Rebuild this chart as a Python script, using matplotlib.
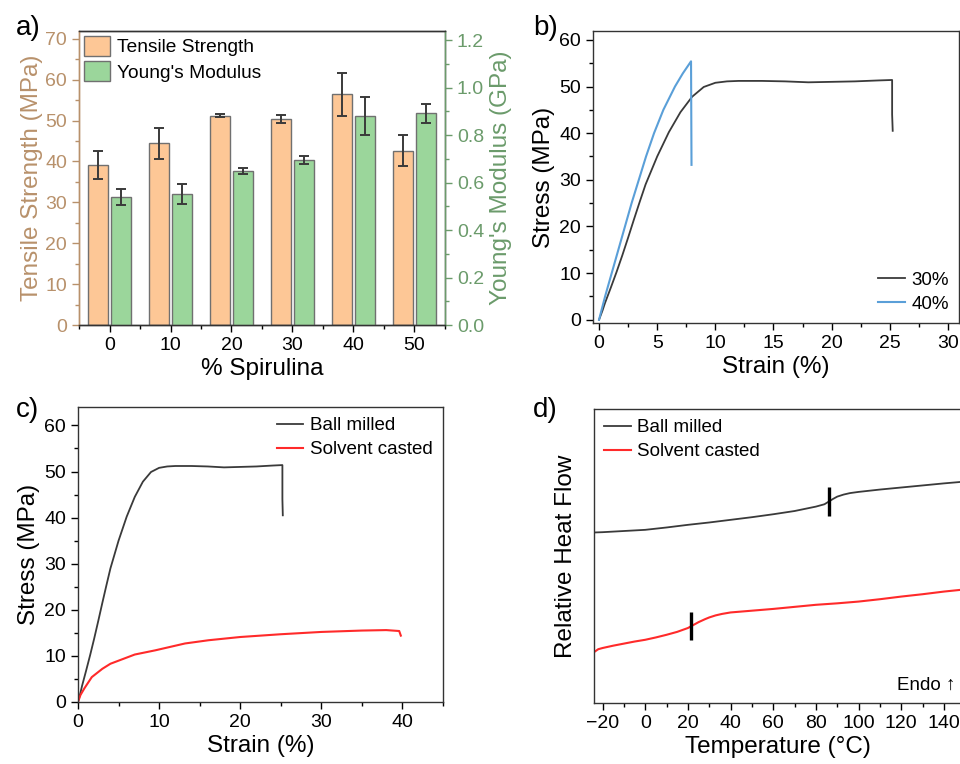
import numpy as np
import matplotlib
matplotlib.use("Agg")
import matplotlib.pyplot as plt
from matplotlib.ticker import MultipleLocator

plt.rcParams['font.family'] = ['Liberation Sans', 'DejaVu Sans']

# === Données ===
# a) propriétés mécaniques selon le % de spiruline
spirulina = ['0', '10', '20', '30', '40', '50']
tensile = [39.1, 44.4, 51.2, 50.4, 56.4, 42.6]          # MPa
tensile_err = [3.5, 3.7, 0.4, 1.0, 5.3, 3.8]
modulus = [0.539, 0.554, 0.650, 0.695, 0.880, 0.892]    # GPa
modulus_err = [0.034, 0.042, 0.012, 0.016, 0.080, 0.041]

# b) et c) courbes contrainte / déformation
ball_strain = [0, 0.3, 0.5, 1, 1.5, 2, 2.5, 3, 3.5, 4, 5, 6, 7, 8, 9, 10, 11, 12,
               14, 16, 18, 20, 22, 24, 25.2, 25.2, 25.25]
ball_stress = [0, 2.0, 3.5, 6.8, 10.2, 13.8, 17.6, 21.5, 25.3, 29.0, 35.0, 40.2,
               44.5, 47.8, 49.9, 50.8, 51.1, 51.2, 51.2, 51.1, 50.9, 51.0, 51.1,
               51.3, 51.4, 44.0, 40.5]

s40_strain = [0, 0.52, 1.66, 2.8, 4.04, 4.73, 5.53, 6.53, 7.2, 7.91, 7.95]
s40_stress = [0, 5, 15, 25, 35, 40, 45, 50, 52.8, 55.4, 33.2]

solv_strain = [0, 0.3, 0.8, 1.7, 3, 4, 5.2, 7, 9.5, 13.2, 16.1, 20, 25, 30, 35, 38,
               39.6, 39.8]
solv_stress = [0, 1.5, 3.0, 5.4, 7.2, 8.3, 9.1, 10.3, 11.2, 12.7, 13.4, 14.1, 14.7,
               15.2, 15.5, 15.6, 15.4, 14.4]

# d) DSC (flux de chaleur relatif, unités arbitraires)
dsc_ball_T = [-24, -20, -10, 0, 10, 20, 30, 40, 50, 60, 70, 80, 84, 86, 88, 90, 93,
              96, 100, 110, 120, 130, 140, 148]
dsc_ball_hf = [58.0, 58.1, 58.5, 58.9, 59.7, 60.6, 61.4, 62.3, 63.2, 64.2, 65.3,
               66.8, 67.6, 68.5, 69.4, 70.2, 70.9, 71.4, 71.8, 72.6, 73.3, 74.0,
               74.7, 75.2]
dsc_solv_T = [-24, -22, -20, -15, -10, -5, 0, 5, 10, 15, 20, 22, 25, 28, 30, 33, 36,
              40, 50, 60, 70, 80, 90, 100, 110, 120, 130, 140, 148]
dsc_solv_hf = [17.3, 18.3, 18.7, 19.5, 20.2, 20.9, 21.5, 22.3, 23.2, 24.2, 25.5,
               26.3, 27.5, 28.5, 29.1, 29.8, 30.3, 30.8, 31.4, 32.0, 32.7, 33.4,
               33.9, 34.5, 35.3, 36.2, 37.0, 37.9, 38.5]
tg_ball = 86
tg_solv = 21.5

# === Couleurs ===
c_orange = '#FDC796'
c_green = '#9BD69B'
c_tan = '#B8916B'
c_dgreen = '#6B9B6B'
c_black = '#3A3A3A'
c_red = '#FF2A2A'
c_blue = '#5A9FD8'

W, H = 960, 764
fig = plt.figure(figsize=(W / 100, H / 100), dpi=100)


def rect(l, t, r, b):
    return [l / W, 1 - b / H, (r - l) / W, (b - t) / H]


def style(ax):
    ax.tick_params(which='both', direction='out', labelsize=14, width=1)
    ax.tick_params(which='major', length=5)
    ax.tick_params(which='minor', length=3)
    for s in ax.spines.values():
        s.set_linewidth(1)
        s.set_color('#333333')


leg_kw = dict(frameon=False, fontsize=13.5, handlelength=1.4, labelspacing=0.35,
              handletextpad=0.35, borderaxespad=0.15)

# === a) ===
ax1 = fig.add_axes(rect(79, 31, 445, 325))
style(ax1)
x = np.arange(len(spirulina))
err_kw = dict(ecolor='#3a3a3a', elinewidth=1.4, capthick=1.4)
b1 = ax1.bar(x - 0.19, tensile, 0.33, yerr=tensile_err, capsize=3.5,
             color=c_orange, edgecolor='#707070', linewidth=1, error_kw=err_kw)
ax1.set_xlim(-0.5, 5.5)
ax1.set_ylim(0, 71.9)
ax1.set_xticks(x)
ax1.set_xticklabels(spirulina)
ax1.xaxis.set_minor_locator(MultipleLocator(0.5))
ax1.yaxis.set_major_locator(MultipleLocator(10))
ax1.yaxis.set_minor_locator(MultipleLocator(5))
ax1.tick_params(axis='y', which='both', colors=c_tan)
ax1.spines['left'].set_color(c_tan)
ax1.set_ylabel('Tensile Strength (MPa)', fontsize=17.5, color=c_tan, labelpad=2)
ax1.set_xlabel('% Spirulina', fontsize=17.5, labelpad=3)

ax2 = ax1.twinx()
style(ax2)
b2 = ax2.bar(x + 0.19, modulus, 0.33, yerr=modulus_err, capsize=3.5,
             color=c_green, edgecolor='#707070', linewidth=1, error_kw=err_kw)
ax2.set_ylim(0, 1.239)
ax2.yaxis.set_major_locator(MultipleLocator(0.2))
ax2.yaxis.set_minor_locator(MultipleLocator(0.1))
ax2.yaxis.set_major_formatter(matplotlib.ticker.FormatStrFormatter('%.1f'))
ax2.tick_params(axis='y', which='both', colors=c_dgreen)
ax2.spines['right'].set_color(c_dgreen)
ax2.spines['left'].set_color(c_tan)
ax2.set_ylabel("Young's Modulus (GPa)", fontsize=17.5, color=c_dgreen, labelpad=4)
ax2.legend([b1, b2], ['Tensile Strength', "Young's Modulus"], loc='upper left',
           frameon=False, fontsize=13.8, handlelength=1.35, handleheight=1.25,
           borderaxespad=0.05, borderpad=0.2, labelspacing=0.25, handletextpad=0.4)

# === b) ===
axb = fig.add_axes(rect(593, 31, 959, 323))
style(axb)
axb.plot(ball_strain, ball_stress, color=c_black, lw=1.3, label='30%')
axb.plot(s40_strain, s40_stress, color=c_blue, lw=1.5, label='40%')
axb.set_xlim(-0.52, 30.95)
axb.set_ylim(-0.7, 61.9)
axb.xaxis.set_major_locator(MultipleLocator(5))
axb.xaxis.set_minor_locator(MultipleLocator(2.5))
axb.yaxis.set_major_locator(MultipleLocator(10))
axb.yaxis.set_minor_locator(MultipleLocator(5))
axb.set_xlabel('Strain (%)', fontsize=17.5, labelpad=3)
axb.set_ylabel('Stress (MPa)', fontsize=17.5, labelpad=3)
axb.legend(loc='lower right', **leg_kw)

# === c) ===
axc = fig.add_axes(rect(78, 407, 443, 702))
style(axc)
axc.plot(ball_strain, ball_stress, color=c_black, lw=1.3, label='Ball milled')
axc.plot(solv_strain, solv_stress, color=c_red, lw=1.5, label='Solvent casted')
axc.set_xlim(0, 45)
axc.set_ylim(0, 64)
axc.xaxis.set_major_locator(MultipleLocator(10))
axc.xaxis.set_minor_locator(MultipleLocator(5))
axc.yaxis.set_major_locator(MultipleLocator(10))
axc.yaxis.set_minor_locator(MultipleLocator(5))
axc.set_xlabel('Strain (%)', fontsize=17.5, labelpad=3)
axc.set_ylabel('Stress (MPa)', fontsize=17.5, labelpad=3)
axc.legend(loc='upper right', **leg_kw)

# === d) ===
axd = fig.add_axes(rect(594, 409, 961, 703))
style(axd)
axd.plot(dsc_ball_T, dsc_ball_hf, color=c_black, lw=1.3, label='Ball milled')
axd.plot(dsc_solv_T, dsc_solv_hf, color=c_red, lw=1.5, label='Solvent casted')
for tg, tt, hh in [(tg_ball, dsc_ball_T, dsc_ball_hf), (tg_solv, dsc_solv_T, dsc_solv_hf)]:
    yc = np.interp(tg, tt, hh)
    axd.vlines(tg, yc - 4.8, yc + 4.8, color='black', lw=2.4)
axd.set_xlim(-24, 148)
axd.set_ylim(0, 100)
axd.set_yticks([])
axd.xaxis.set_major_locator(MultipleLocator(20))
axd.xaxis.set_minor_locator(MultipleLocator(10))
axd.set_xlabel('Temperature (°C)', fontsize=17.5, labelpad=3)
axd.set_ylabel('Relative Heat Flow', fontsize=17.5, labelpad=12)
axd.legend(loc='upper left', **leg_kw)
axd.text(0.985, 0.03, 'Endo ↑', transform=axd.transAxes, ha='right', va='bottom',
         fontsize=13.5)

# Lettres des panneaux
for lbl, px, py in [('a)', 16, 28), ('b)', 533, 28), ('c)', 16, 410), ('d)', 533, 410)]:
    fig.text(px / W, 1 - py / H, lbl, fontsize=20, ha='left', va='center')

fig.savefig('out.png', dpi=100)
